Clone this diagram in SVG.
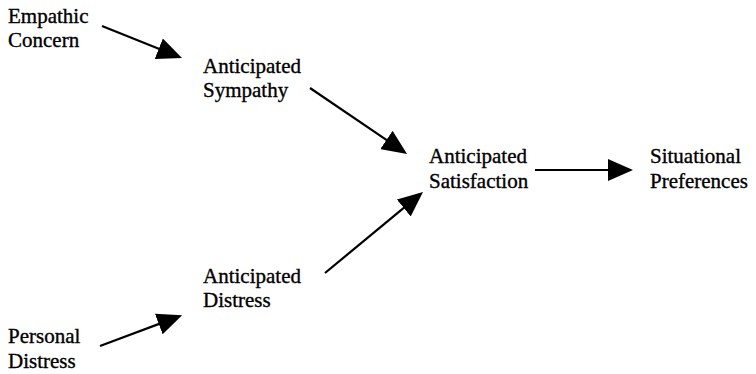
<svg xmlns="http://www.w3.org/2000/svg" width="756" height="374" viewBox="0 0 756 374">
<style>
text{font-family:"Liberation Serif","Times New Roman",serif;font-size:21px;fill:#000;stroke:#000;stroke-width:0.35}
.c line{stroke:#000;stroke-width:2.2;fill:none}
</style>
<defs>
<marker id="ah" markerUnits="userSpaceOnUse" markerWidth="25" markerHeight="22" refX="4" refY="11" orient="auto">
<path d="M0,0 L25,11 L0,22 z" fill="#000"/>
</marker>
</defs>
<rect width="756" height="374" fill="#fff"/>
<g id="empathic-concern"><text x="8" y="23">Empathic</text><text x="8" y="47">Concern</text></g>
<g id="anticipated-sympathy"><text x="203" y="73">Anticipated</text><text x="203" y="97">Sympathy</text></g>
<g id="anticipated-satisfaction"><text x="429" y="163">Anticipated</text><text x="429" y="188">Satisfaction</text></g>
<g id="situational-preferences"><text x="650" y="163">Situational</text><text x="650" y="188">Preferences</text></g>
<g id="anticipated-distress"><text x="203" y="283">Anticipated</text><text x="203" y="307">Distress</text></g>
<g id="personal-distress"><text x="8" y="343">Personal</text><text x="8" y="368">Distress</text></g>
<g id="connectors" class="c">
<line x1="102" y1="26" x2="162.5" y2="50.2" marker-end="url(#ah)"/>
<line x1="310" y1="88" x2="389.7" y2="142.2" marker-end="url(#ah)"/>
<line x1="535" y1="170" x2="612" y2="170" marker-end="url(#ah)"/>
<line x1="325" y1="273" x2="406.8" y2="205.4" marker-end="url(#ah)"/>
<line x1="100" y1="346" x2="162.5" y2="322.6" marker-end="url(#ah)"/>
</g>
</svg>
